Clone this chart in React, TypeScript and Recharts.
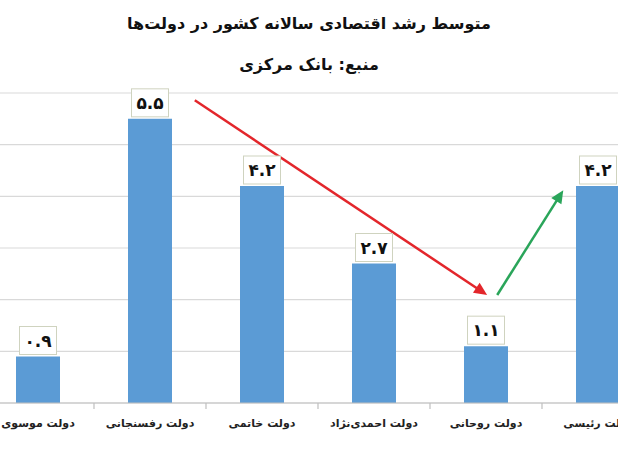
import React from "react";
import * as R from "recharts";
import {
  BarChart,
  Bar,
  XAxis,
  YAxis,
  CartesianGrid,
  LabelList,
} from "recharts";

const governments = [
  "دولت موسوی",
  "دولت رفسنجانی",
  "دولت خاتمی",
  "دولت احمدی‌نژاد",
  "دولت روحانی",
  "دولت رئیسی",
];
const growth = [0.9, 5.5, 4.2, 2.7, 1.1, 4.2];
const yDomain: [number, number] = [0, 6];
const yTicks = [0, 1, 2, 3, 4, 5, 6];

// arrows in data units (x = position in category bands 0..6, y = growth %)
const redArrow = [
  { x: 1.9, y: 5.86 },
  { x: 4.51, y: 2.09 },
];
const greenArrow = [
  { x: 4.6, y: 2.09 },
  { x: 5.19, y: 4.12 },
];

const data = governments.map((name, i) => ({ name, value: growth[i] }));

const faDigits = "۰۱۲۳۴۵۶۷۸۹";
const toFa = (v: number) =>
  v.toFixed(1).replace(/\d/g, (d) => faDigits[Number(d)]);

const font = "'DejaVu Sans', sans-serif";

const usePlot: () => any =
  (R as any).usePlotArea || (R as any).useOffset || (() => null);

function ValueBox(props: any) {
  const { x, y, width, value } = props;
  const cx = x + width / 2;
  const w = 37;
  const h = 28;
  return (
    <g>
      <rect
        x={cx - w / 2}
        y={y - h - 2}
        width={w}
        height={h}
        fill="#fff"
        stroke="#cfd3bf"
        strokeWidth={1}
      />
      <text
        x={cx}
        y={y - h / 2 - 2}
        textAnchor="middle"
        dominantBaseline="central"
        fontFamily={font}
        fontWeight="bold"
        fontSize={17}
        fill="#111"
      >
        {toFa(value)}
      </text>
    </g>
  );
}

function CatTick(props: any) {
  const { x, y, payload } = props;
  const half = payload?.offset ?? 0;
  return (
    <g>
      <line
        x1={x + half}
        x2={x + half}
        y1={y}
        y2={y + 6}
        stroke="#bfbfbf"
        strokeWidth={1.2}
      />
      <text
        x={x}
        y={y + 20}
        textAnchor="middle"
        dominantBaseline="central"
        fontFamily={font}
        fontWeight="bold"
        fontSize={11}
        fill="#222"
      >
        {payload.value}
      </text>
    </g>
  );
}

function Arrow({ pts, color, plot }: { pts: { x: number; y: number }[]; color: string; plot: any }) {
  const left = plot.x ?? plot.left;
  const top = plot.y ?? plot.top;
  const w = plot.width;
  const h = plot.height;
  const sx = (v: number) => left + (v / governments.length) * w;
  const sy = (v: number) =>
    top + h - ((v - yDomain[0]) / (yDomain[1] - yDomain[0])) * h;
  const x1 = sx(pts[0].x);
  const y1 = sy(pts[0].y);
  const x2 = sx(pts[1].x);
  const y2 = sy(pts[1].y);
  const ang = Math.atan2(y2 - y1, x2 - x1);
  const len = 13;
  const half = 6;
  const bx = x2 - len * Math.cos(ang);
  const by = y2 - len * Math.sin(ang);
  const nx = -Math.sin(ang);
  const ny = Math.cos(ang);
  return (
    <g>
      <line
        x1={x1}
        y1={y1}
        x2={bx + 3 * Math.cos(ang)}
        y2={by + 3 * Math.sin(ang)}
        stroke={color}
        strokeWidth={2.5}
      />
      <polygon
        points={`${x2},${y2} ${bx + nx * half},${by + ny * half} ${bx - nx * half},${by - ny * half}`}
        fill={color}
      />
    </g>
  );
}

function Arrows() {
  const plot = usePlot();
  if (!plot || typeof plot.width !== "number") return null;
  return (
    <g>
      <Arrow pts={redArrow} color="#e3262b" plot={plot} />
      <Arrow pts={greenArrow} color="#2aa55a" plot={plot} />
    </g>
  );
}

export default function App() {
  return (
    <div
      style={{
        width: 618,
        height: 450,
        position: "relative",
        overflow: "hidden",
        background: "#fff",
      }}
    >
      <style>{`body{margin:0}`}</style>
      <div
        style={{
          position: "absolute",
          top: 10,
          left: 0,
          width: 618,
          textAlign: "center",
          direction: "rtl",
          fontFamily: font,
          fontWeight: "bold",
          fontSize: 16,
          color: "#111",
        }}
      >
        <div style={{ lineHeight: "28px" }}>
          متوسط رشد اقتصادی سالانه کشور در دولت‌ها
        </div>
        <div style={{ lineHeight: "28px", marginTop: 13 }}>منبع: بانک مرکزی</div>
      </div>
      <div style={{ position: "absolute", left: -18, top: 0 }}>
        <BarChart
          width={672}
          height={450}
          data={data}
          margin={{ top: 93, right: 0, left: 0, bottom: 0 }}
        >
          <CartesianGrid
            horizontal
            vertical={false}
            stroke="#d9d9d9"
            strokeWidth={1.2}
          />
          <XAxis
            dataKey="name"
            height={47}
            axisLine={{ stroke: "#bfbfbf", strokeWidth: 1.2 }}
            tickLine={false}
            tickSize={0}
            tickMargin={0}
            interval={0}
            tick={<CatTick />}
          />
          <YAxis hide domain={yDomain} ticks={yTicks} />
          <Bar
            dataKey="value"
            fill="#5b9bd5"
            barSize={44}
            isAnimationActive={false}
          >
            <LabelList dataKey="value" content={<ValueBox />} />
          </Bar>
          <Arrows />
        </BarChart>
      </div>
    </div>
  );
}
